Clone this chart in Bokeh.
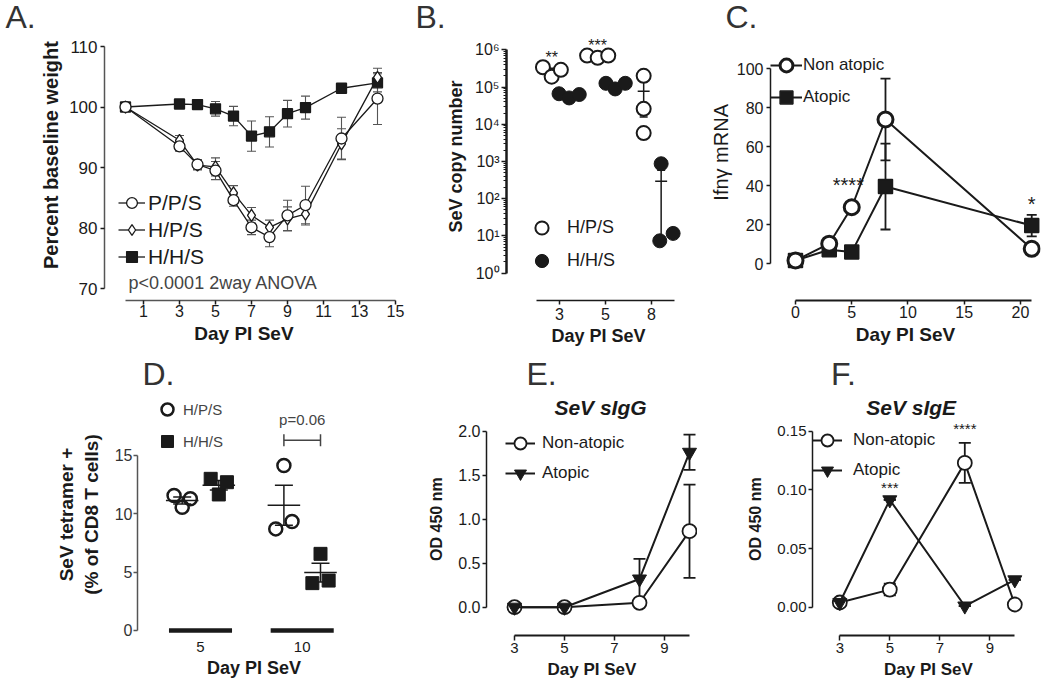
import numpy as np
from bokeh.plotting import figure
from bokeh.layouts import row, column
from bokeh.models import (Range1d, FixedTicker, Whisker, TeeHead, Legend, LegendItem,
                          ColumnDataSource, NumeralTickFormatter)
from bokeh.core.properties import value
from bokeh.embed import file_html
from bokeh.resources import INLINE

FONT = "Liberation Sans"
INK = "#1a1a1a"
GREY = "#555555"
NB = "\u00a0"

# ---------------- data ----------------
# A: percent baseline weight (mean, SEM)
days_A = [0, 3, 4, 5, 6, 7, 8, 9, 10, 12, 14]
pps_mean = [100, 93.5, 90.5, 89.5, 84.6, 80.1, 78.5, 82.1, 83.8, 94.8, 101.4]
pps_sem = [0, 0.8, 0.8, 1.5, 1.0, 1.2, 1.6, 2.5, 3.1, 3.5, 4.3]
hps_mean = [100, 94.5, 90.4, 90.1, 85.8, 82.1, 80.1, 81.5, 82.3, 93.9, 104.9]
hps_sem = [0, 0.8, 0.8, 1.5, 1.2, 1.3, 1.2, 2.0, 1.8, 2.5, 1.5]
hhs_mean = [100, 100.5, 100.4, 99.7, 98.5, 95.2, 95.9, 98.9, 99.9, 103.1, 104.0]
hhs_sem = [0, 0.3, 0.3, 1.2, 1.6, 2.5, 2.5, 2.2, 1.9, 0.6, 1.5]
ticks_A_x = [1, 3, 5, 7, 9, 11, 13, 15]
ticks_A_y = [70, 80, 90, 100, 110]
labels_A = ["P/P/S", "H/P/S", "H/H/S"]
note_A = "p<0.0001 2way ANOVA"

# B: SeV copy number, individual animals
cats_B = ["3", "5", "8"]
hps_B = [[3.4e5, 1.9e5, 2.9e5], [7.0e5, 6.1e5, 7.0e5], [2.0e5, 2.6e4, 5.8e3]]
hhs_B = [[6.6e4, 5.1e4, 6.3e4], [1.26e5, 8.9e4, 1.26e5], [7.4, 870, 11.7]]
sig_B = ["**", "***", ""]
ticks_B_y = [1, 10, 100, 1000, 10000, 100000, 1000000]
labels_B_y = ["10\u2070", "10\u00b9", "10\u00b2", "10\u00b3", "10\u2074", "10\u2075", "10\u2076"]

# C: Ifn-gamma mRNA
days_C = [0, 3, 5, 8, 21]
non_C = [1.7, 10.3, 29.0, 74.0, 7.7]
non_C_err = [1.5, 1.5, 1.5, 21.0, 1.5]
at_C = [1.7, 7.2, 6.0, 39.6, 19.6]
at_C_err = [1.5, 1.0, 1.0, 22.0, 5.5]
sig_C_text = ["****", "*"]
sig_C_day = [4.7, 21]
sig_C_y = [40.5, 30.5]

# D: SeV tetramer+ (% of CD8 T cells)
cats_D = ["5", "10"]
hps_D = [[11.57, 10.57, 11.29], [8.71, 14.14, 9.34]]
hhs_D = [[13.0, 11.66, 12.71], [4.06, 6.57, 4.28]]
p_text_D = "p=0.06"

# E / F: SeV specific IgG / IgE (OD 450 nm)
days_EF = [3, 5, 8, 10]
igg_non = [0.0, 0.0, 0.05, 0.864]
igg_non_err = [0, 0, 0.0, 0.53]
igg_at = [0.0, 0.0, 0.32, 1.76]
igg_at_err = [0, 0, 0.23, 0.2]
ige_non = [0.004, 0.015, 0.123, 0.0023]
ige_non_err = [0, 0.005, 0.017, 0]
ige_at = [0.004, 0.0915, 0.001, 0.0233]
ige_at_err = [0, 0, 0, 0]
sig_F_text = ["***", "****"]
sig_F_day = [5, 8]
sig_F_y = [0.102, 0.1523]

# layout-only offsets for the dot plots (beeswarm spread)
jit_open_B = [[-0.19, 0, 0.2], [-0.23, 0, 0.23], [0, 0, 0]]
jit_fill_B = [[-0.22, 0, 0.22], [-0.2, 0, 0.22], [-0.03, 0, 0.26]]
jit_D = [[-0.08, 0, 0.08], [-0.08, 0, 0.08]]

LETTER = "32px"


# ---------------- helpers ----------------
def make_fig(width, height, left, right, top, bottom, xr, yr, y_axis_type="linear"):
    p = figure(width=width, height=height, x_range=Range1d(*xr), y_range=Range1d(*yr),
               y_axis_type=y_axis_type, output_backend="svg", toolbar_location=None,
               min_border_left=left, min_border_right=right, min_border_top=top,
               min_border_bottom=bottom, title=None)
    p.xgrid.visible = False
    p.ygrid.visible = False
    p.outline_line_color = None
    p.background_fill_color = "white"
    p.border_fill_color = "white"
    for ax in (p.xaxis[0], p.yaxis[0]):
        ax.axis_line_color = INK
        ax.axis_line_width = 1.5
        ax.major_tick_line_color = INK
        ax.major_tick_line_width = 1.5
        ax.major_tick_in = 0
        ax.major_tick_out = 4
        ax.minor_tick_line_color = None
        ax.major_label_text_font = FONT
        ax.axis_label_text_font = FONT
        ax.axis_label_text_font_style = "bold"
        ax.major_label_text_color = INK
        ax.axis_label_text_color = INK
    return p


def strip(width, height):
    p = figure(width=width, height=height, x_range=Range1d(0, width), y_range=Range1d(0, height),
               output_backend="svg", toolbar_location=None, x_axis_location=None,
               y_axis_location=None, min_border=0, title=None)
    p.xgrid.visible = False
    p.ygrid.visible = False
    p.outline_line_color = None
    p.background_fill_color = "white"
    p.border_fill_color = "white"
    return p


def put_text(p, xs, ys, texts, size, style="normal", color="#333333", align="left", baseline="alphabetic"):
    src = ColumnDataSource(dict(x=xs, y=ys, t=texts))
    p.text(x="x", y="y", text="t", source=src, text_align=align, text_baseline=baseline,
           text_font=value(FONT), text_font_size=size, text_font_style=style, text_color=color)


def style_axis(ax, ticks, bounds, tick_size, label, label_size, standoff=3, label_standoff=5):
    ax.ticker = FixedTicker(ticks=ticks)
    if bounds is not None:
        ax.bounds = bounds
    ax.major_label_text_font_size = tick_size
    ax.major_label_standoff = standoff
    ax.axis_label = label
    ax.axis_label_text_font_size = label_size
    ax.axis_label_standoff = label_standoff


def add_series(p, x, y, err, marker, size, fill, lw, mlw, ecolor=INK, cap=8, ewidth=1.2):
    lo = [a - b for a, b in zip(y, err)]
    hi = [a + b for a, b in zip(y, err)]
    src = ColumnDataSource(dict(x=x, y=y, lo=lo, hi=hi))
    p.add_layout(Whisker(source=src, base="x", lower="lo", upper="hi",
                         line_color=ecolor, line_width=ewidth,
                         lower_head=TeeHead(size=cap, line_color=ecolor, line_width=ewidth),
                         upper_head=TeeHead(size=cap, line_color=ecolor, line_width=ewidth)))
    rl = p.line("x", "y", source=src, line_color=INK, line_width=lw)
    rs = p.scatter("x", "y", source=src, marker=marker, size=size, fill_color=fill,
                   line_color=INK, line_width=mlw)
    return rl, rs


def dot_groups(p, groups, offset, jit, marker, size, fill, mlw, mean_half, cap, lw):
    xs, ys = [], []
    mx, my, lo, hi = [], [], [], []
    for ci, vals in enumerate(groups):
        c = ci + offset
        for v, j in zip(vals, jit[ci]):
            xs.append(c + j)
            ys.append(v)
        m = float(np.mean(vals))
        s = float(np.std(vals, ddof=1) / np.sqrt(len(vals)))
        mx.append(c)
        my.append(m)
        lo.append(m - s)
        hi.append(m + s)
    msrc = ColumnDataSource(dict(x=mx, y=my, lo=lo, hi=hi,
                                 x0=[v - mean_half for v in mx], x1=[v + mean_half for v in mx]))
    p.segment(x0="x0", y0="y", x1="x1", y1="y", source=msrc, line_color=INK, line_width=lw)
    p.add_layout(Whisker(source=msrc, base="x", lower="lo", upper="hi", line_color=INK, line_width=lw,
                         lower_head=TeeHead(size=cap, line_color=INK, line_width=lw),
                         upper_head=TeeHead(size=cap, line_color=INK, line_width=lw)))
    r = p.scatter(xs, ys, marker=marker, size=size, fill_color=fill, line_color=INK, line_width=mlw)
    return r


def add_legend(p, items, loc, gw, gh, spacing, standoff, size, color=INK):
    leg = Legend(items=[LegendItem(label=t, renderers=[r for r in rs if r is not None]) for t, rs in items],
                 location=loc, orientation="vertical", glyph_width=gw, glyph_height=gh,
                 spacing=spacing, padding=0, margin=0, label_standoff=standoff,
                 label_text_font=FONT, label_text_font_size=size, label_text_color=color,
                 border_line_alpha=0, background_fill_alpha=0)
    p.add_layout(leg)


def overrides(ticks, labels):
    d = {}
    for t, l in zip(ticks, labels):
        d[t] = l
        d[str(t)] = l
    return d


# ---------------- top strip with panel letters ----------------
s1 = strip(1048, 36)
put_text(s1, [5, 415, 725], [19.6, 19.6, 19.6], ["A.", "B.", "C."], LETTER)

# ---------------- panel A ----------------
pA = make_fig(412, 314, 104, 8, 1, 50, (-1.1667, 15.5), (68.02, 111.49))
style_axis(pA.xaxis[0], ticks_A_x, (0, 15), "16px", "Day PI SeV" + NB * 4, "19px", standoff=0, label_standoff=3)
style_axis(pA.yaxis[0], ticks_A_y, (70, 110), "17px", NB * 5 + "Percent baseline weight", "20px",
           standoff=3, label_standoff=4)
pA.xaxis.axis_line_color = GREY
pA.yaxis.axis_line_color = GREY
r_hhs = add_series(pA, days_A, hhs_mean, hhs_sem, "square", 10, INK, 1.3, 1.3, ecolor=GREY, cap=9, ewidth=1.1)
r_hps = add_series(pA, days_A, hps_mean, hps_sem, "diamond", 12, "white", 1.3, 1.3, ecolor=GREY, cap=9, ewidth=1.1)
r_pps = add_series(pA, days_A, pps_mean, pps_sem, "circle", 11, "white", 1.3, 1.3, ecolor=GREY, cap=9, ewidth=1.1)
add_legend(pA, [(labels_A[0], r_pps), (labels_A[1], r_hps), (labels_A[2], r_hhs)],
           (14, 30), 27, 27, -5, 3, "21px")
put_text(pA, [0.17], [70.9], [note_A], "18px", color="#444444")

# ---------------- panel B ----------------
pB = make_fig(288, 314, 94, 10, 1, 50, (-1.152, 2.848), (10 ** -0.734, 10 ** 6.331), y_axis_type="log")
style_axis(pB.xaxis[0], [0, 1, 2], (-0.5, 2.5), "16px", "Day PI SeV", "18px", standoff=3, label_standoff=3)
pB.xaxis.major_label_overrides = overrides([0, 1, 2], cats_B)
pB.yaxis.ticker = FixedTicker(ticks=ticks_B_y,
                              minor_ticks=[k * 10 ** e for e in range(6) for k in range(2, 10)])
pB.yaxis.bounds = (1, 1e6)
pB.yaxis.major_label_overrides = overrides(ticks_B_y, labels_B_y)
pB.yaxis.major_label_text_font_size = "16px"
pB.yaxis.major_label_standoff = 2
pB.yaxis.axis_label = NB * 5 + "SeV copy number"
pB.yaxis.axis_label_text_font_size = "18px"
pB.yaxis.axis_label_standoff = 6
pB.yaxis.axis_line_width = 2.5
pB.yaxis.major_tick_out = 5
pB.yaxis.minor_tick_line_color = INK
pB.yaxis.minor_tick_out = 3
pB.yaxis.minor_tick_in = 0
off_open_B, off_fill_B = -0.17, 0.21
r_open_B = dot_groups(pB, hps_B, off_open_B, jit_open_B, "circle", 14, "white", 2, 0.13, 8, 1.5)
r_fill_B = dot_groups(pB, hhs_B, off_fill_B, jit_fill_B, "circle", 14, INK, 1, 0.13, 8, 1.5)
put_text(pB, [i + off_open_B for i in range(len(cats_B))], [max(v) * 10 ** 0.26 for v in hps_B], sig_B,
         "16px", color=INK, align="center", baseline="middle")
add_legend(pB, [("H/P/S", [r_open_B]), ("H/H/S", [r_fill_B])], (19, 23), 33, 33, -4, 9, "18px")

# ---------------- panel C ----------------
pC = make_fig(348, 314, 70, 8, 1, 50, (-2.222, 21.78), (-18.82, 116.05))
style_axis(pC.xaxis[0], [0, 5, 10, 15, 20], (0, 21), "16px", "Day PI SeV", "19px", standoff=1, label_standoff=3)
style_axis(pC.yaxis[0], [0, 20, 40, 60, 80, 100], (0, 100), "16px", NB * 6 + "Ifn\u03b3 mRNA", "20px",
           standoff=3, label_standoff=2)
pC.yaxis.axis_label_text_font_style = "normal"
pC.xaxis.axis_line_width = 2
r_at_C = add_series(pC, days_C, at_C, at_C_err, "square", 14, INK, 2, 1.5, cap=10, ewidth=1.8)
r_non_C = add_series(pC, days_C, non_C, non_C_err, "circle", 15, "white", 2, 3, cap=10, ewidth=1.8)
put_text(pC, sig_C_day, sig_C_y, sig_C_text, "20px", color=INK, align="center", baseline="middle")
add_legend(pC, [("Non atopic", r_non_C), ("Atopic", r_at_C)], (0, 187), 32, 32, 0, 1, "17px")

# ---------------- panel D ----------------
sD = strip(345, 43)
put_text(sD, [8.3], [19.6], ["D."], LETTER)
pD = make_fig(345, 295, 137, 5, 0, 53, (-0.6195, 1.3766), (-0.4286, 20.314))
style_axis(pD.xaxis[0], [0, 1], None, "15px", NB * 6 + "Day PI SeV", "18px", standoff=6, label_standoff=3)
pD.xaxis.major_label_overrides = overrides([0, 1], cats_D)
pD.xaxis.axis_line_color = None
pD.xaxis.major_tick_line_color = None
pD.xaxis.major_tick_out = 0
style_axis(pD.yaxis[0], [0, 5, 10, 15], (0, 15), "16px", "SeV tetramer +\n(% of CD8 T cells)", "19px",
           standoff=1, label_standoff=10)
pD.yaxis.axis_line_color = GREY
pD.yaxis.major_tick_line_color = GREY
pD.yaxis.major_label_text_color = "#333333"
bars = ColumnDataSource(dict(x0=[i - 0.31 for i in range(len(cats_D))],
                             x1=[i + 0.31 for i in range(len(cats_D))], y=[0] * len(cats_D)))
pD.segment(x0="x0", y0="y", x1="x1", y1="y", source=bars, line_color=INK, line_width=4.5)
off_open_D, off_fill_D = -0.18, 0.18
r_open_D = dot_groups(pD, hps_D, off_open_D, jit_D, "circle", 13, None, 2.5, 0.16, 18, 1.5)
r_fill_D = dot_groups(pD, hhs_D, off_fill_D, jit_D, "square", 13, INK, 1, 0.16, 18, 1.5)
brk_y = 16.3
brk = ColumnDataSource(dict(y=[brk_y], lo=[1 + off_open_D], hi=[1 + off_fill_D]))
pD.add_layout(Whisker(source=brk, base="y", lower="lo", upper="hi", dimension="width",
                      line_color="#444444", line_width=1.5,
                      lower_head=TeeHead(size=12, line_color="#444444", line_width=1.5),
                      upper_head=TeeHead(size=12, line_color="#444444", line_width=1.5)))
put_text(pD, [1.0], [brk_y + 1.8], [p_text_D], "15px", color="#444444", align="center")
add_legend(pD, [("H/P/S", [r_open_D]), ("H/H/S", [r_fill_D])], (15, 179), 30, 30, 2, 1, "15px", color="#444444")

# ---------------- panel E ----------------
sE = strip(352, 70)
put_text(sE, [66.7], [46.6], ["E."], LETTER)
put_text(sE, [113.3], [13.4], ["SeV sIgG"], "21px", style="bold italic", color=INK)
pE = make_fig(352, 268, 141, 0, 0, 53, (1.88, 10.32), (-0.3216, 2.1216))
style_axis(pE.xaxis[0], [3, 5, 7, 9], (3, 10), "15px", "Day PI SeV", "17px", standoff=2, label_standoff=4)
style_axis(pE.yaxis[0], [0, 0.5, 1.0, 1.5, 2.0], (0, 2), "16px", NB * 4 + "OD 450 nm", "16px",
           standoff=2, label_standoff=10)
pE.yaxis.formatter = NumeralTickFormatter(format="0.0")
pE.xaxis.axis_line_width = 2
pE.xaxis.major_tick_out = 5
r_non_E = add_series(pE, days_EF, igg_non, igg_non_err, "circle", 14, "white", 2, 1.8, cap=12, ewidth=1.8)
r_at_E = add_series(pE, days_EF, igg_at, igg_at_err, "inverted_triangle", 14, INK, 2, 1, cap=12, ewidth=1.8)
add_legend(pE, [("Non-atopic", r_non_E), ("Atopic", r_at_E)], (19, 147), 30, 30, -7, 7, "17px")

# ---------------- panel F ----------------
sF = strip(351, 70)
put_text(sF, [28], [46.6], ["F."], LETTER)
put_text(sF, [81.3], [13.4], ["SeV sIgE"], "21px", style="bold italic", color=INK)
pF = make_fig(351, 268, 115, 4, 0, 53, (1.908, 11.188), (-0.02412, 0.15912))
style_axis(pF.xaxis[0], [3, 5, 7, 9], (3, 10), "15px", "Day PI SeV", "17px", standoff=2, label_standoff=4)
style_axis(pF.yaxis[0], [0, 0.05, 0.10, 0.15], (0, 0.15), "15px", NB * 4 + "OD 450 nm", "16px",
           standoff=2, label_standoff=10)
pF.yaxis.formatter = NumeralTickFormatter(format="0.00")
pF.xaxis.axis_line_width = 2
pF.xaxis.major_tick_out = 5
r_non_F = add_series(pF, days_EF, ige_non, ige_non_err, "circle", 14, "white", 2, 1.8, cap=12, ewidth=1.8)
r_at_F = add_series(pF, days_EF, ige_at, ige_at_err, "inverted_triangle", 14, INK, 2, 1, cap=12, ewidth=1.8)
put_text(pF, sig_F_day, sig_F_y, sig_F_text, "15px", color=INK, align="center", baseline="middle")
add_legend(pF, [("Non-atopic", r_non_F), ("Atopic", r_at_F)], (0, 150), 30, 30, -7, 11, "17px")

layout = column(row(s1), row(pA, pB, pC),
                row(column(sD, pD), column(sE, pE), column(sF, pF)))
open("out.html", "w").write(file_html(layout, INLINE))
